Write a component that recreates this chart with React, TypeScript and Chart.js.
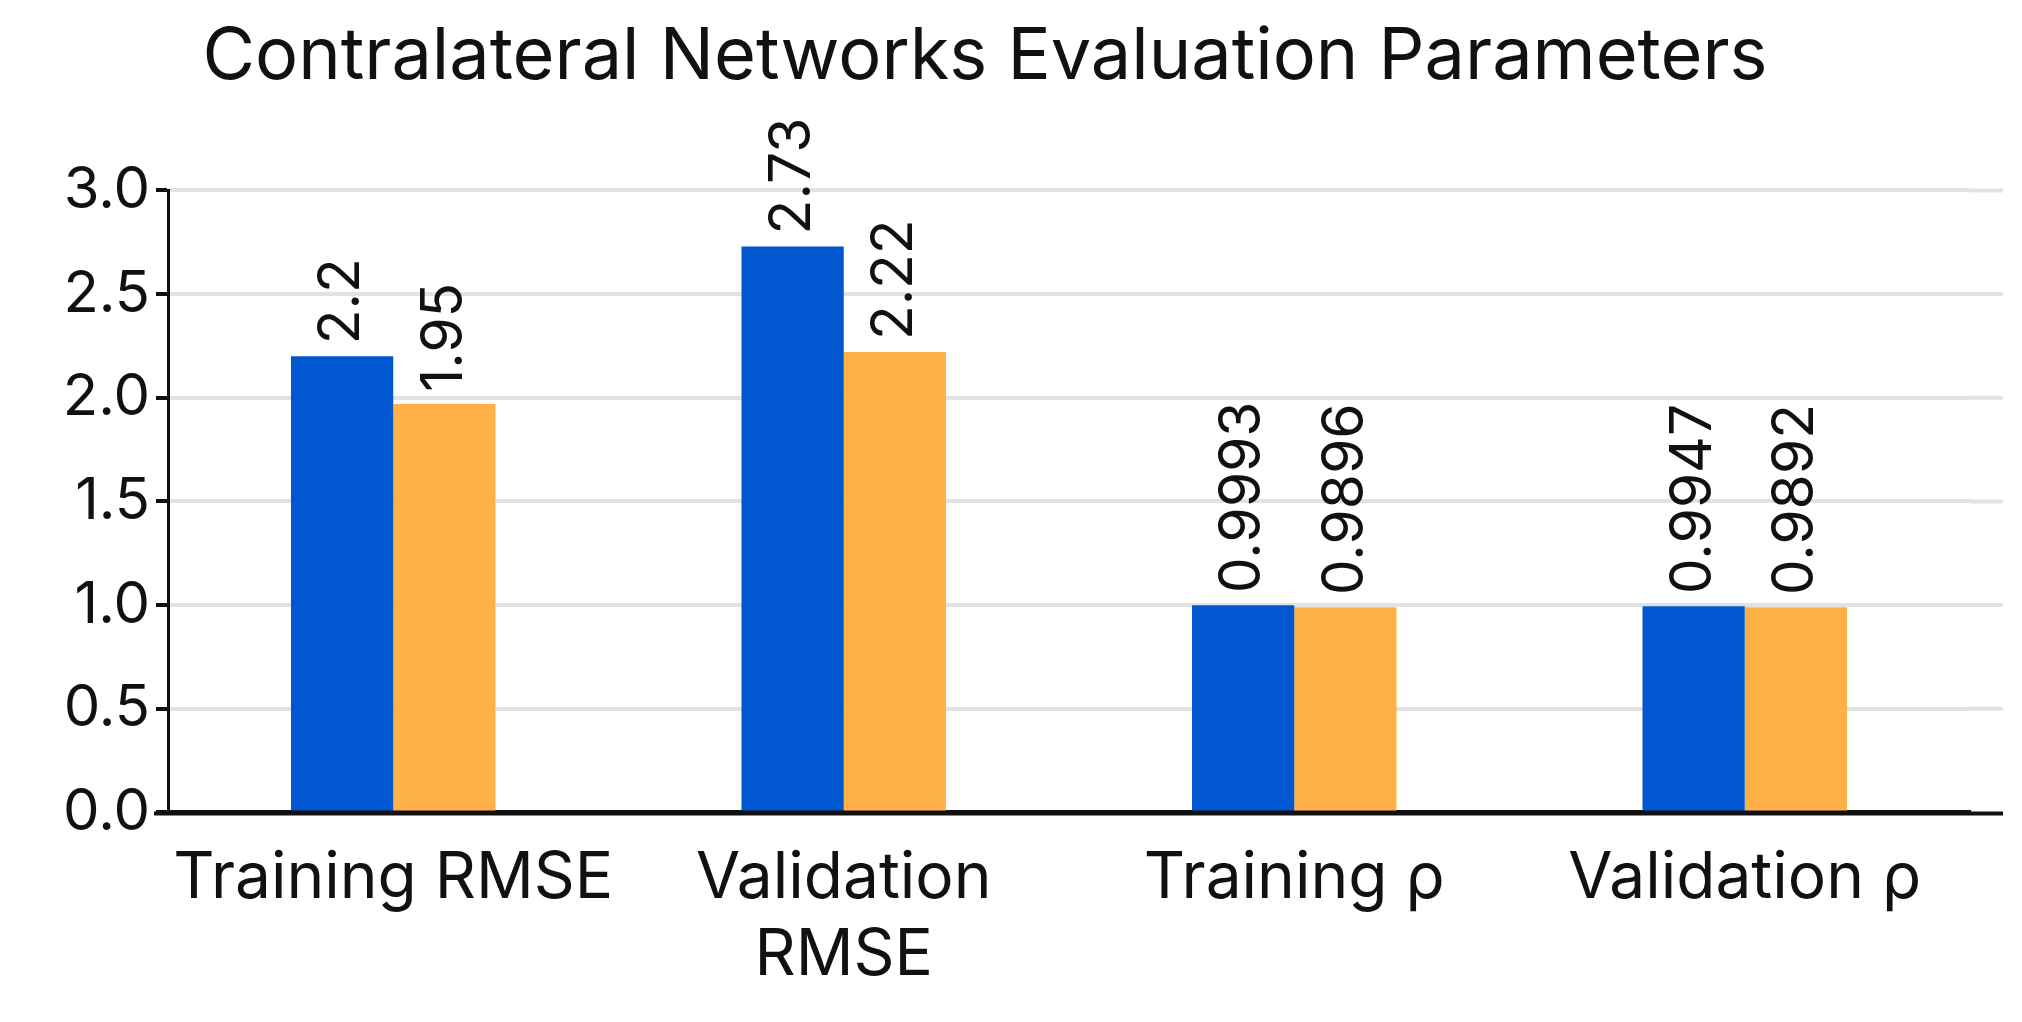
import React, { useEffect, useRef } from "react";
import { Chart, registerables } from "chart.js";
Chart.register(...registerables);

const categories: (string | string[])[] = ["Training RMSE", ["Validation", "RMSE"], "Training ρ", "Validation ρ"];
const seriesA = [2.2, 2.73, 0.9993, 0.9947];
const seriesB = [1.97, 2.22, 0.9896, 0.9892];
const labelsA = ["2.2", "2.73", "0.9993", "0.9947"];
const labelsB = ["1.95", "2.22", "0.9896", "0.9892"];
const yTicks = [0, 0.5, 1, 1.5, 2, 2.5, 3];

const FONT = "Inter, 'Noto Sans', sans-serif";
const EXT_R = 33;
const EXT_L = 14;

const valueLabels = {
  id: "valueLabels",
  beforeDatasetsDraw(chart: any) {
    const ctx = chart.ctx;
    const { right, left, bottom } = chart.chartArea;
    const y = chart.scales.y;
    ctx.save();
    ctx.strokeStyle = "#e2e2e2";
    ctx.lineWidth = 4;
    yTicks.forEach((v) => {
      if (v === 0) return;
      const py = y.getPixelForValue(v);
      ctx.beginPath();
      ctx.moveTo(right, py);
      ctx.lineTo(right + EXT_R, py);
      ctx.stroke();
    });
    ctx.strokeStyle = "#111";
    ctx.lineWidth = 4;
    ctx.beginPath();
    ctx.moveTo(left - EXT_L, bottom + 1);
    ctx.lineTo(right + EXT_R, bottom + 1);
    ctx.stroke();
    ctx.restore();
  },
  afterDatasetsDraw(chart: any) {
    const ctx = chart.ctx;
    const texts = [labelsA, labelsB];
    chart.data.datasets.forEach((_: any, di: number) => {
      chart.getDatasetMeta(di).data.forEach((bar: any, i: number) => {
        ctx.save();
        ctx.translate(bar.x, bar.y - 12);
        ctx.rotate(-Math.PI / 2);
        ctx.font = `57px ${FONT}`;
        ctx.fillStyle = "#111";
        ctx.textAlign = "left";
        ctx.textBaseline = "middle";
        ctx.fillText(texts[di][i], 0, 0);
        ctx.restore();
      });
    });
  },
};

export default function App() {
  const ref = useRef<HTMLCanvasElement>(null);
  useEffect(() => {
    document.body.style.margin = "0";
    const chart = new Chart(ref.current!, {
      type: "bar",
      data: {
        labels: categories,
        datasets: [
          { data: seriesA, backgroundColor: "#0057cf", categoryPercentage: 0.454, barPercentage: 1 },
          { data: seriesB, backgroundColor: "#ffb047", categoryPercentage: 0.454, barPercentage: 1 },
        ],
      },
      options: {
        animation: false,
        responsive: false,
        layout: { padding: { left: 0, right: 52, top: 0, bottom: 8 } },
        plugins: {
          legend: { display: false },
          tooltip: { enabled: false },
          title: {
            display: true,
            text: "Contralateral Networks Evaluation Parameters",
            font: { family: FONT, size: 72, weight: "normal" },
            color: "#111",
            padding: { top: 14, bottom: 90 },
          },
        },
        scales: {
          x: {
            grid: { display: false },
            border: { color: "#111", width: 4 },
            ticks: { color: "#111", font: { family: FONT, size: 64 }, padding: 20, maxRotation: 0, autoSkip: false },
          },
          y: {
            min: 0,
            max: 3,
            afterFit: (axis: any) => { axis.width = 168; },
            afterBuildTicks: (axis: any) => { axis.ticks = yTicks.map((v) => ({ value: v })); },
            grid: { color: "#e2e2e2", lineWidth: 4, tickLength: 12, tickColor: "#111" },
            border: { color: "#111", width: 3 },
            ticks: { color: "#111", font: { family: FONT, size: 58 }, padding: 6, callback: (v: any) => Number(v).toFixed(1) },
          },
        },
      },
      plugins: [valueLabels],
    });
    return () => chart.destroy();
  }, []);
  return <canvas ref={ref} width={2022} height={1022} style={{ display: "block" }} />;
}
